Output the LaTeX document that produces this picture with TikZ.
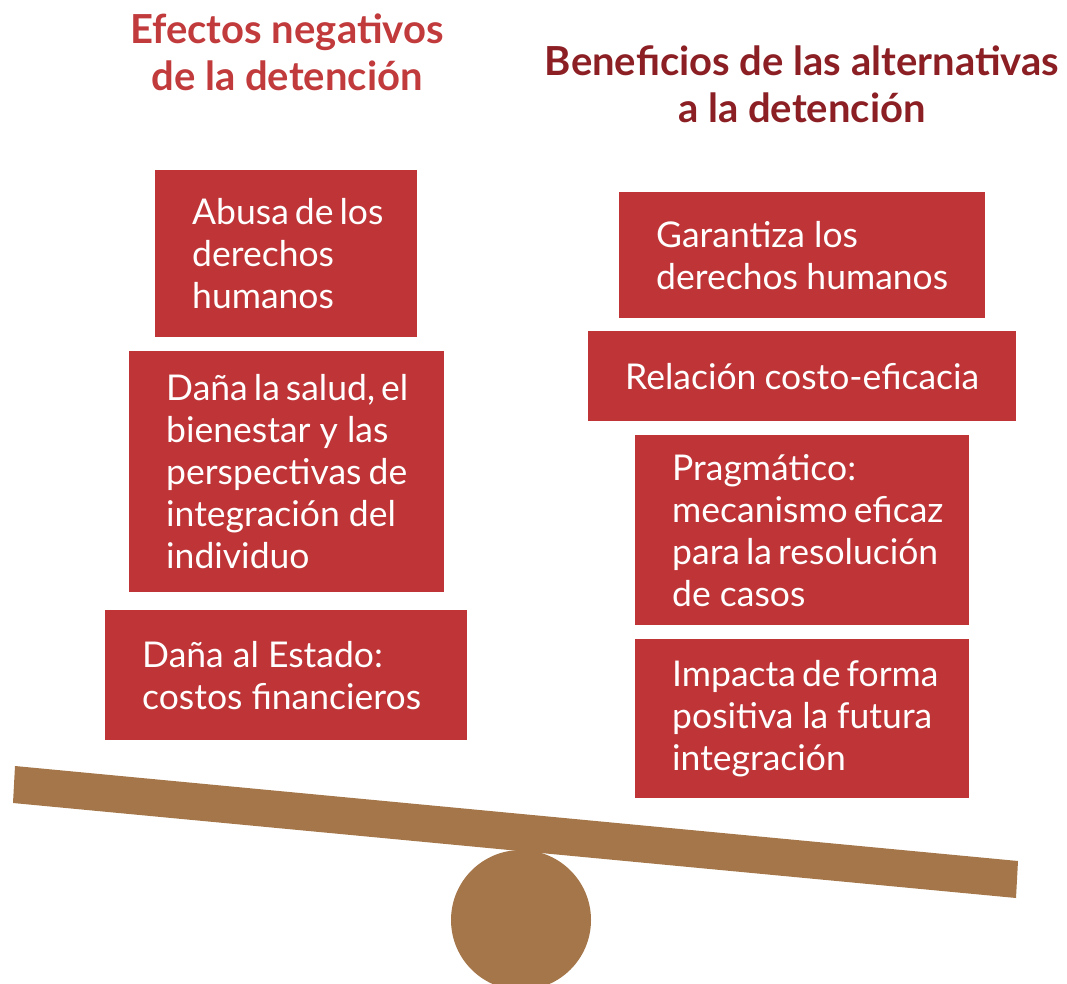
\documentclass[tikz,border=0pt]{standalone}
\usepackage{fontspec}
\setmainfont{Lato}
\usepackage{tikz}
\usetikzlibrary{positioning}
\hyphenpenalty=10000
\exhyphenpenalty=10000
\definecolor{boxred}{HTML}{BF3437}
\definecolor{negred}{HTML}{C13A3C}
\definecolor{bendark}{HTML}{8B1F24}
\definecolor{woodbrown}{HTML}{A57649}
\tikzset{
    box/.style={fill=boxred, text=white, anchor=north west, inner xsep=37pt, inner ysep=0pt,
        align=flush left, font=\fontsize{35.5}{42}\selectfont}, % the red argument boxes
    heading/.style={align=center, inner sep=0pt, font=\fontsize{40}{47}\selectfont\bfseries}, % titles over each side
}

\begin{document}
\begin{tikzpicture}[x=1pt, y=-1pt]
    \useasboundingbox (0,0) rectangle (1067,984);
    % titles
    \node[heading, text=negred] (tneg) at (287,52) {Efectos negativos\\de la detención};
    \node[heading, text=bendark] (tben) at (802,84) {Beneficios de las alternativas\\a la detención};
    % left pile
    \node[box, text width=188pt, minimum width=262pt, minimum height=167pt] (nabuse) at (155,170) {Abusa~de~los\\derechos\\humanos};
    \node[box, text width=241pt, minimum width=315pt, minimum height=241pt] (nhealth) at (129,351) {Daña~la~salud,~el\\bienestar~y~las\\perspectivas~de\\integración~del\\individuo};
    \node[box, text width=288pt, minimum width=362pt, minimum height=130pt] (nstate) at (105,610) {Daña~al~Estado:\\costos~financieros};
    % right pile
    \node[box, text width=292pt, minimum width=366pt, minimum height=126pt] (brights) at (619,192) {Garantiza~los\\derechos~humanos};
    \node[box, text width=354pt, minimum width=428pt, minimum height=90pt] (bcost) at (588,331) {Relación~costo-eficacia};
    \node[box, text width=260pt, minimum width=334pt, minimum height=190pt] (bpragm) at (635,435) {Pragmático:\\mecanismo~eficaz\\para~la~resolución\\de~casos};
    \node[box, text width=260pt, minimum width=334pt, minimum height=159pt] (bimpact) at (635,639) {Impacta~de~forma\\positiva~la~futura\\integración};
    % the scale
    \fill[woodbrown] (521,920) circle[radius=70pt];
    \fill[woodbrown] (15,766) -- (1018,861) -- (1016,898) -- (13,803) -- cycle;
\end{tikzpicture}
\end{document}
